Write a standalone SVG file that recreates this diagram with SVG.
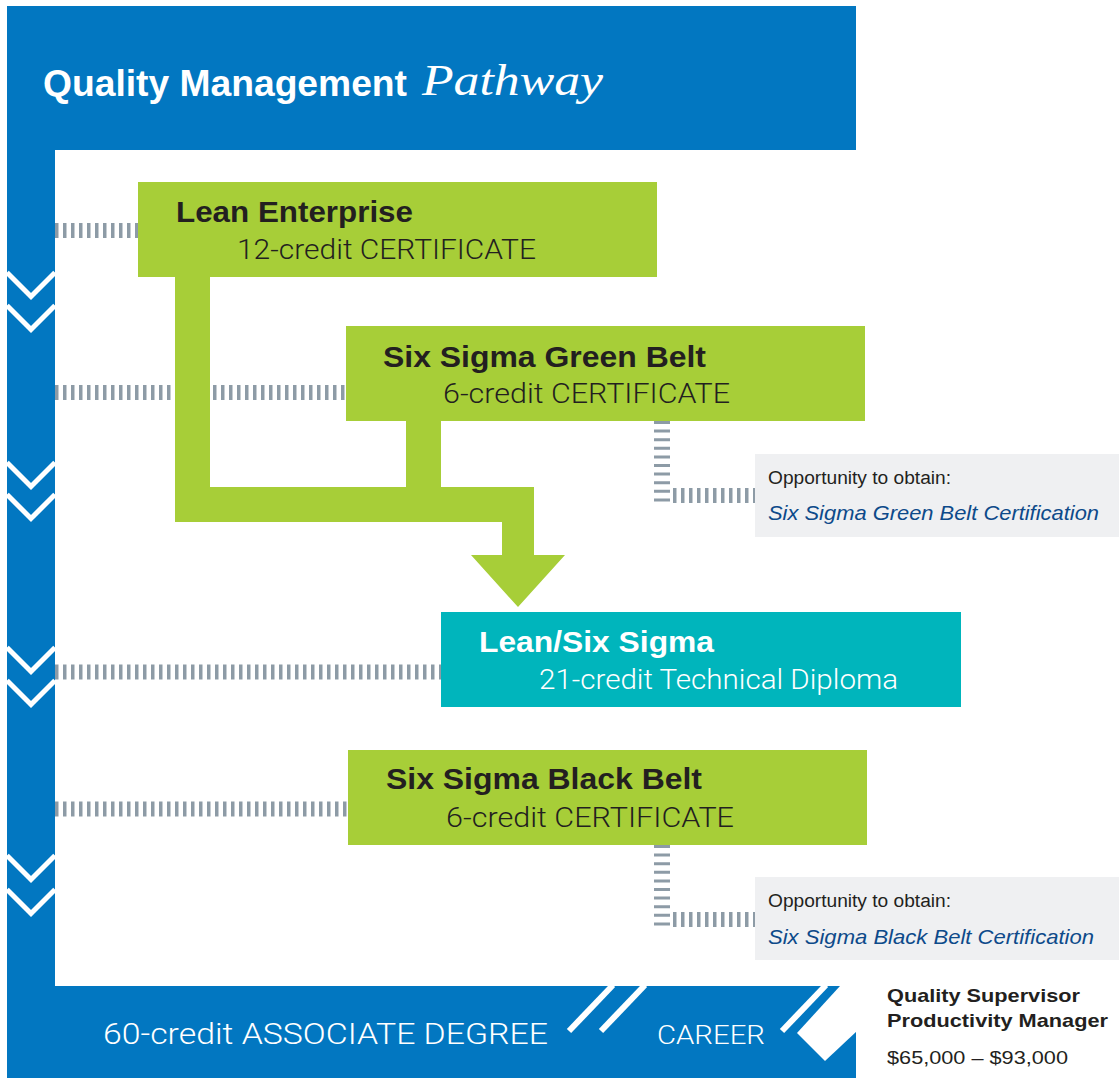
<svg xmlns="http://www.w3.org/2000/svg" width="1119" height="1078" viewBox="0 0 1119 1078">
<style>
.blue{fill:#0277c1}
.green{fill:#a7ce38}
.teal{fill:#00b5bc}
.grey{fill:#eff0f2}
.chev{fill:none;stroke:#fff;stroke-width:5;stroke-linejoin:miter}
.slash{stroke:#fff;stroke-width:6}
.dh{fill:none;stroke:#8d9ba6;stroke-width:15;stroke-dasharray:3.5 4.5}
.dv{fill:none;stroke:#8d9ba6;stroke-width:16;stroke-dasharray:3 5.6}
.b{font-family:"Liberation Sans",Arial,sans-serif;font-weight:bold}
.l{font-family:Roboto,"Liberation Sans",Arial,sans-serif;font-weight:300}
.n{font-family:"Liberation Sans",Arial,sans-serif}
.dark{fill:#231f20}
.white{fill:#fff}
.it{font-family:"Liberation Sans",Arial,sans-serif;font-style:italic;fill:#0d4a8a}
</style>
<rect width="1119" height="1078" fill="#fff"/>
<g id="frame">
<rect class="blue" x="7" y="6" width="849" height="144"/>
<rect class="blue" x="7" y="150" width="48" height="836"/>
<rect class="blue" x="7" y="986" width="849" height="92"/>
<polyline class="chev" points="7,272.5 31,296.5 55,272.5"/>
<polyline class="chev" points="7,305.5 31,329.5 55,305.5"/>
<polyline class="chev" points="7,462.5 31,486.5 55,462.5"/>
<polyline class="chev" points="7,494.5 31,518.5 55,494.5"/>
<polyline class="chev" points="7,647.5 31,671.5 55,647.5"/>
<polyline class="chev" points="7,680.5 31,704.5 55,680.5"/>
<polyline class="chev" points="7,855.5 31,879.5 55,855.5"/>
<polyline class="chev" points="7,889.5 31,913.5 55,889.5"/>
<line class="slash" x1="569" y1="1031" x2="613" y2="985"/>
<line class="slash" x1="601" y1="1031" x2="645" y2="985"/>
<line class="slash" x1="782" y1="1031" x2="826" y2="985"/>
<polygon fill="#fff" points="840,986 857,986 857,1031 825,1061 797,1033"/>
<text class="b white" x="43" y="96" font-size="36" textLength="364" lengthAdjust="spacingAndGlyphs">Quality Management</text>
<text x="422" y="95" font-family="'Liberation Serif',serif" font-style="italic" font-size="44" fill="#fff" textLength="181" lengthAdjust="spacingAndGlyphs">Pathway</text>
<text class="l white" x="103" y="1044" font-size="29" textLength="445" lengthAdjust="spacingAndGlyphs">60-credit ASSOCIATE DEGREE</text>
<text class="l white" x="657" y="1044" font-size="25" textLength="108" lengthAdjust="spacingAndGlyphs">CAREER</text>
</g>
<g id="connectors">
<line class="dh" x1="55" y1="230.5" x2="138" y2="230.5"/>
<line class="dh" x1="55" y1="392.5" x2="171" y2="392.5"/>
<line class="dh" x1="213" y1="392.5" x2="346" y2="392.5"/>
<line class="dh" x1="55" y1="672" x2="441" y2="672"/>
<line class="dh" x1="55" y1="809" x2="348" y2="809"/>
<line class="dv" x1="662" y1="421" x2="662" y2="504"/>
<line class="dh" x1="673" y1="495.5" x2="755" y2="495.5"/>
<line class="dv" x1="662" y1="845" x2="662" y2="928"/>
<line class="dh" x1="673" y1="919.5" x2="755" y2="919.5"/>
<path class="green" d="M175,277 H210 V487 H406 V421 H441 V487 H534 V555 H565 L518,607 L471,555 H502 V522 H175 Z"/>
</g>
<g id="lean-enterprise">
<rect class="green" x="138" y="182" width="519" height="95"/>
<text class="b dark" x="176" y="222" font-size="30" textLength="237" lengthAdjust="spacingAndGlyphs">Lean Enterprise</text>
<text class="l dark" x="237" y="259" font-size="28" textLength="299" lengthAdjust="spacingAndGlyphs">12-credit CERTIFICATE</text>
</g>
<g id="green-belt">
<rect class="green" x="346" y="326" width="519" height="95"/>
<text class="b dark" x="383" y="367" font-size="30" textLength="323" lengthAdjust="spacingAndGlyphs">Six Sigma Green Belt</text>
<text class="l dark" x="443" y="403" font-size="28" textLength="287" lengthAdjust="spacingAndGlyphs">6-credit CERTIFICATE</text>
</g>
<g id="lean-six-sigma">
<rect class="teal" x="441" y="612" width="520" height="95"/>
<text class="b white" x="479" y="652" font-size="30" textLength="235" lengthAdjust="spacingAndGlyphs">Lean/Six Sigma</text>
<text class="l white" x="539" y="689" font-size="28" textLength="359" lengthAdjust="spacingAndGlyphs">21-credit Technical Diploma</text>
</g>
<g id="black-belt">
<rect class="green" x="348" y="750" width="519" height="95"/>
<text class="b dark" x="386" y="789" font-size="30" textLength="316" lengthAdjust="spacingAndGlyphs">Six Sigma Black Belt</text>
<text class="l dark" x="446" y="827" font-size="28" textLength="288" lengthAdjust="spacingAndGlyphs">6-credit CERTIFICATE</text>
</g>
<g id="green-belt-cert">
<rect class="grey" x="755" y="454" width="364" height="83"/>
<text class="n dark" x="768" y="484" font-size="18" textLength="183" lengthAdjust="spacingAndGlyphs">Opportunity to obtain:</text>
<text class="it" x="768" y="520" font-size="21" textLength="331" lengthAdjust="spacingAndGlyphs">Six Sigma Green Belt Certification</text>
</g>
<g id="black-belt-cert">
<rect class="grey" x="755" y="877" width="364" height="83"/>
<text class="n dark" x="768" y="907" font-size="18" textLength="183" lengthAdjust="spacingAndGlyphs">Opportunity to obtain:</text>
<text class="it" x="768" y="944" font-size="21" textLength="326" lengthAdjust="spacingAndGlyphs">Six Sigma Black Belt Certification</text>
</g>
<g id="career">
<text class="b dark" x="887" y="1002" font-size="19" textLength="193" lengthAdjust="spacingAndGlyphs">Quality Supervisor</text>
<text class="b dark" x="887" y="1027" font-size="19" textLength="221" lengthAdjust="spacingAndGlyphs">Productivity Manager</text>
<text class="n dark" x="887" y="1064" font-size="19" textLength="181" lengthAdjust="spacingAndGlyphs">$65,000 – $93,000</text>
</g>
</svg>
